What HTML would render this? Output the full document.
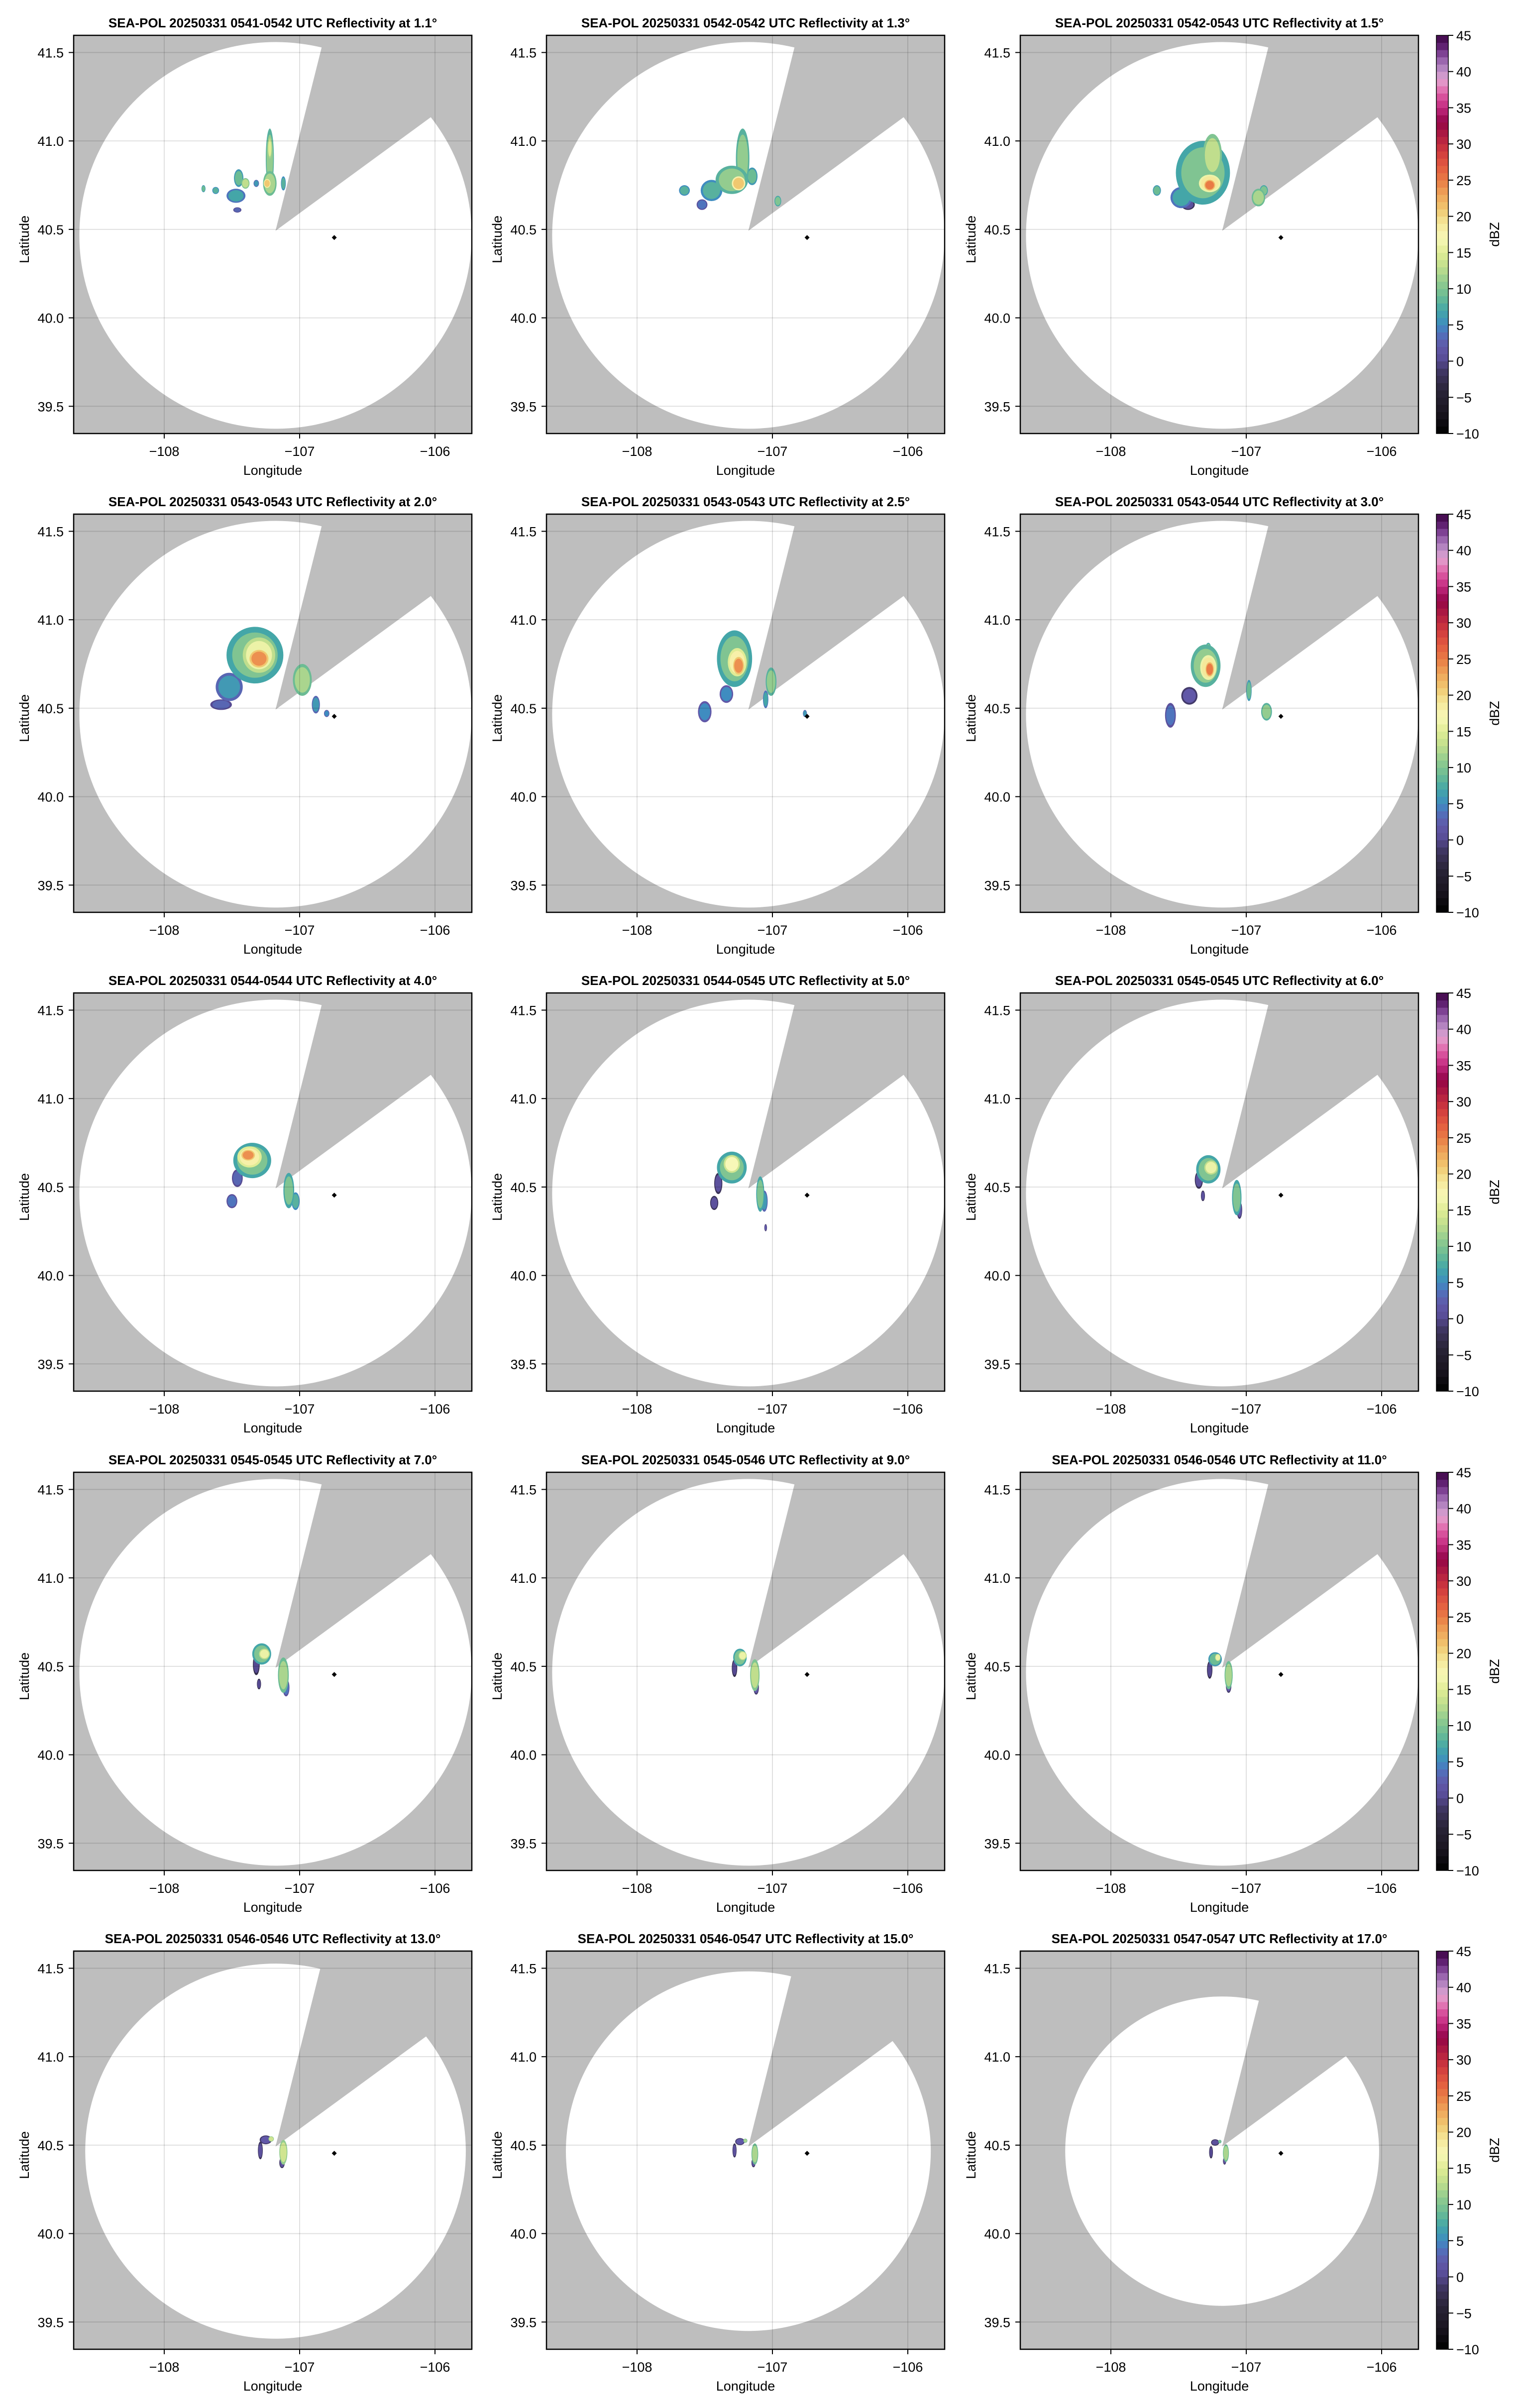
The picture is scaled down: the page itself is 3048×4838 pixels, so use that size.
<!DOCTYPE html>
<html><head><meta charset="utf-8">
<style>
html,body{margin:0;padding:0;background:#fff;}
svg{display:block;font-family:"Liberation Sans",Arial,sans-serif;}
</style></head>
<body>
<svg id="fig" width="3048" height="4838" viewBox="0 0 3048 4838" xmlns="http://www.w3.org/2000/svg"></svg>
<script>
// ---- data ----
const titles = [
 "SEA-POL 20250331 0541-0542 UTC Reflectivity at 1.1°",
 "SEA-POL 20250331 0542-0542 UTC Reflectivity at 1.3°",
 "SEA-POL 20250331 0542-0543 UTC Reflectivity at 1.5°",
 "SEA-POL 20250331 0543-0543 UTC Reflectivity at 2.0°",
 "SEA-POL 20250331 0543-0543 UTC Reflectivity at 2.5°",
 "SEA-POL 20250331 0543-0544 UTC Reflectivity at 3.0°",
 "SEA-POL 20250331 0544-0544 UTC Reflectivity at 4.0°",
 "SEA-POL 20250331 0544-0545 UTC Reflectivity at 5.0°",
 "SEA-POL 20250331 0545-0545 UTC Reflectivity at 6.0°",
 "SEA-POL 20250331 0545-0545 UTC Reflectivity at 7.0°",
 "SEA-POL 20250331 0545-0546 UTC Reflectivity at 9.0°",
 "SEA-POL 20250331 0546-0546 UTC Reflectivity at 11.0°",
 "SEA-POL 20250331 0546-0546 UTC Reflectivity at 13.0°",
 "SEA-POL 20250331 0546-0547 UTC Reflectivity at 15.0°",
 "SEA-POL 20250331 0547-0547 UTC Reflectivity at 17.0°"
];
const rangeFactor = [1,1,1,1,1,1,1,1,1,1,1,1,0.97,0.93,0.80];
const xTicks = [-108,-107,-106];
const xTickLabels = ["−108","−107","−106"];
const yTicks = [41.5,41.0,40.5,40.0,39.5];
const yTickLabels = ["41.5","41.0","40.5","40.0","39.5"];
const cbTicks = [45,40,35,30,25,20,15,10,5,0,-5,-10];
const cbTickLabels = ["45","40","35","30","25","20","15","10","5","0","−5","−10"];
const radarApex = [-107.178, 40.492];
const rangeCenter = [-107.178, 40.466];
const rangeHalf = [1.449, 1.093];
const wedgeP1 = [-106.840, 41.520];
const wedgeP2 = [-106.057, 41.119];
const siteDot = [-106.744, 40.454];
// echoes per panel: [lon, lat, halfLon, halfLat, dBZ]
const echoes = [
 [[-107.22,40.90,0.03,0.17,11],[-107.22,40.96,0.015,0.06,15],[-107.22,40.76,0.05,0.07,12],[-107.24,40.76,0.025,0.025,21],[-107.45,40.79,0.035,0.05,9],[-107.47,40.69,0.07,0.04,7],[-107.40,40.76,0.03,0.03,13],[-107.62,40.72,0.025,0.02,8],[-107.71,40.73,0.015,0.02,9],[-107.12,40.76,0.018,0.04,8],[-107.46,40.61,0.03,0.015,3],[-107.32,40.76,0.02,0.02,6]],
 [[-107.22,40.90,0.05,0.17,11],[-107.30,40.78,0.12,0.08,11],[-107.25,40.76,0.05,0.04,21],[-107.45,40.72,0.08,0.06,8],[-107.65,40.72,0.04,0.03,8],[-107.52,40.64,0.04,0.03,4],[-106.96,40.66,0.025,0.03,10],[-107.15,40.80,0.04,0.05,9]],
 [[-107.32,40.82,0.2,0.18,10],[-107.25,40.92,0.07,0.12,13],[-107.27,40.76,0.08,0.05,19],[-107.27,40.75,0.04,0.03,25],[-107.48,40.68,0.08,0.06,7],[-107.43,40.64,0.05,0.03,1],[-107.66,40.72,0.03,0.03,9],[-106.91,40.68,0.05,0.05,12],[-106.87,40.72,0.03,0.03,10]],
 [[-107.33,40.80,0.21,0.16,10],[-107.30,40.80,0.12,0.1,16],[-107.30,40.78,0.07,0.05,24],[-107.52,40.62,0.1,0.08,6],[-107.58,40.52,0.08,0.03,3],[-106.98,40.66,0.07,0.09,12],[-106.88,40.52,0.03,0.05,6],[-106.80,40.47,0.02,0.02,5]],
 [[-107.28,40.78,0.13,0.16,10],[-107.26,40.76,0.07,0.08,18],[-107.25,40.74,0.04,0.05,24],[-107.34,40.58,0.05,0.05,5],[-107.50,40.48,0.05,0.06,5],[-107.01,40.65,0.04,0.08,11],[-107.05,40.55,0.02,0.05,7],[-106.76,40.47,0.015,0.02,6]],
 [[-107.30,40.74,0.11,0.12,11],[-107.28,40.73,0.06,0.07,19],[-107.27,40.72,0.03,0.04,25],[-107.42,40.57,0.06,0.05,2],[-107.56,40.46,0.04,0.07,4],[-107.28,40.84,0.02,0.03,10],[-106.98,40.60,0.02,0.06,9],[-106.85,40.48,0.04,0.05,11]],
 [[-107.35,40.65,0.14,0.1,10],[-107.37,40.67,0.09,0.06,18],[-107.38,40.68,0.05,0.03,24],[-107.46,40.55,0.04,0.05,3],[-107.50,40.42,0.04,0.04,4],[-107.08,40.48,0.04,0.1,10],[-107.03,40.42,0.03,0.05,8]],
 [[-107.30,40.61,0.11,0.09,10],[-107.30,40.63,0.06,0.05,17],[-107.40,40.52,0.03,0.06,1],[-107.43,40.41,0.03,0.04,1],[-107.09,40.46,0.03,0.1,10],[-107.06,40.42,0.025,0.06,6],[-107.05,40.27,0.01,0.02,2]],
 [[-107.28,40.60,0.09,0.08,10],[-107.26,40.61,0.05,0.04,16],[-107.35,40.54,0.03,0.05,1],[-107.32,40.45,0.015,0.03,1],[-107.07,40.44,0.035,0.1,10],[-107.05,40.37,0.02,0.05,2]],
 [[-107.28,40.57,0.07,0.06,10],[-107.26,40.57,0.04,0.03,16],[-107.32,40.51,0.025,0.06,0],[-107.30,40.40,0.015,0.03,0],[-107.12,40.45,0.04,0.1,12],[-107.10,40.38,0.025,0.05,4]],
 [[-107.24,40.55,0.05,0.05,10],[-107.22,40.56,0.03,0.025,16],[-107.28,40.49,0.02,0.05,0],[-107.13,40.45,0.035,0.09,13],[-107.12,40.38,0.02,0.04,2]],
 [[-107.23,40.54,0.05,0.04,9],[-107.21,40.55,0.02,0.02,16],[-107.27,40.48,0.02,0.05,0],[-107.13,40.45,0.03,0.08,12],[-107.13,40.39,0.02,0.04,2]],
 [[-107.25,40.53,0.045,0.025,2],[-107.21,40.535,0.02,0.015,14],[-107.29,40.47,0.018,0.05,1],[-107.12,40.46,0.03,0.07,14],[-107.13,40.40,0.02,0.03,1]],
 [[-107.24,40.52,0.035,0.02,2],[-107.20,40.525,0.015,0.012,12],[-107.28,40.47,0.015,0.04,1],[-107.13,40.45,0.025,0.06,12],[-107.14,40.40,0.015,0.025,1]],
 [[-107.23,40.515,0.03,0.018,1],[-107.195,40.52,0.012,0.01,10],[-107.26,40.46,0.014,0.035,0],[-107.15,40.455,0.022,0.05,12],[-107.16,40.41,0.012,0.02,1]]
];
const cmapStops = [[-10,"#000000"],[-7,"#1a1620"],[-4,"#2a2438"],[-1,"#433a6a"],[0,"#564a92"],[2,"#6158a8"],[4,"#4f74bd"],[5,"#3f8cc0"],[7,"#44a6a8"],[9,"#6cbc94"],[11,"#93cc8f"],[13,"#c0de8d"],[15,"#e0ec95"],[17,"#f8f8b8"],[19,"#f5e89a"],[21,"#f0c870"],[23,"#eea55a"],[25,"#e97b45"],[27,"#e25a40"],[29,"#cf3a3e"],[31,"#b21e42"],[33,"#930546"],[34,"#a61563"],[35,"#c42a7f"],[37,"#dd5ea6"],[38,"#e488bd"],[39,"#dfa2d0"],[40,"#c090c7"],[41,"#a877b8"],[42,"#8e55a3"],[43,"#6e2e83"],[44,"#541660"],[45,"#3d0648"]];

// ---- helpers ----
const NS="http://www.w3.org/2000/svg";
const fig=document.getElementById('fig');
function mk(tag,attrs,parent){const e=document.createElementNS(NS,tag);for(const k in attrs)e.setAttribute(k,attrs[k]);(parent||fig).appendChild(e);return e;}
function hex2rgb(h){return [parseInt(h.substr(1,2),16),parseInt(h.substr(3,2),16),parseInt(h.substr(5,2),16)];}
function cmap(v){
  if(v<=cmapStops[0][0])return cmapStops[0][1];
  for(let i=1;i<cmapStops.length;i++){
    if(v<=cmapStops[i][0]){const a=cmapStops[i-1],b=cmapStops[i];const t=(v-a[0])/(b[0]-a[0]);
      const ca=hex2rgb(a[1]),cb=hex2rgb(b[1]);
      return "rgb("+ca.map((c,j)=>Math.round(c+(cb[j]-c)*t)).join(",")+")";}
  }
  return cmapStops[cmapStops.length-1][1];
}
const XMIN=-108.669, XMAX=-105.728, YMIN=39.346, YMAX=41.597;
const colX=[148,1098,2050], colW=[800,800,800];
const rowTop=[71,1033,1995,2958,3920], H=800;

for(let p=0;p<15;p++){
  const r=Math.floor(p/3), c=p%3;
  const X0=colX[c], W=colW[c], Y0=rowTop[r];
  const sx=v=>X0+(v-XMIN)/(XMAX-XMIN)*W;
  const sy=v=>Y0+(YMAX-v)/(YMAX-YMIN)*H;
  const g=mk('g',{});
  
  
  const clipId='clip'+p;
  const cp=mk('clipPath',{id:clipId},g);mk('rect',{x:X0,y:Y0,width:W,height:H},cp);
  const bg=mk('rect',{x:X0,y:Y0,width:W,height:H,fill:'#bebebe'},g);
  
  
  const f=rangeFactor[p];
  const rx=rangeHalf[0]*f/(XMAX-XMIN)*W, ry=rangeHalf[1]*f/(YMAX-YMIN)*H;
  const cx=sx(rangeCenter[0]), cy=sy(rangeCenter[1]);
  const ax=sx(radarApex[0]), ay=sy(radarApex[1]);
  function onEll(pt){
    let px=ax+(sx(pt[0])-ax)*f, py=ay+(sy(pt[1])-ay)*f;
    const dx=(px-cx)/rx, dy=(py-cy)/ry, d=Math.sqrt(dx*dx+dy*dy);
    return [cx+(px-cx)/d, cy+(py-cy)/d];
  }
  const q1=onEll(wedgeP1), q2=onEll(wedgeP2);
  const cov=mk('path',{d:`M${ax},${ay} L${q1[0]},${q1[1]} A${rx},${ry} 0 1 0 ${q2[0]},${q2[1]} Z`,fill:'#ffffff','clip-path':`url(#${clipId})`},g);
  
  
  const eg=mk('g',{'clip-path':`url(#${clipId})`},g);
  
  
  const list=echoes[p].slice().sort((a,b)=>a[4]-b[4]);
  list.forEach(e=>{
    const bx=sx(e[0]),by=sy(e[1]),hx=e[2]/(XMAX-XMIN)*W,hy=e[3]/(YMAX-YMIN)*H;
    const o=mk('ellipse',{cx:bx,cy:by,rx:hx,ry:hy,fill:cmap(e[4]-3)},eg);
    
    
    const m=mk('ellipse',{cx:bx,cy:by,rx:hx*0.8,ry:hy*0.8,fill:cmap(e[4])},eg);
    
    
  });
  xTicks.forEach(t=>{const l=mk('line',{x1:sx(t),x2:sx(t),y1:Y0,y2:Y0+H,stroke:'rgba(0,0,0,0.12)','stroke-width':2},g);
    });
  yTicks.forEach(t=>{const l=mk('line',{x1:X0,x2:X0+W,y1:sy(t),y2:sy(t),stroke:'rgba(0,0,0,0.12)','stroke-width':2},g);
    });
  const dx=sx(siteDot[0]),dy=sy(siteDot[1]);
  const dot=mk('path',{d:`M${dx},${dy-5} L${dx+5},${dy} L${dx},${dy+5} L${dx-5},${dy} Z`,fill:'#000'},g);
  
  
  const fr=mk('rect',{x:X0,y:Y0,width:W,height:H,fill:'none',stroke:'#000','stroke-width':2.5},g);
  
  
  xTicks.forEach((t,i)=>{
    mk('line',{x1:sx(t),x2:sx(t),y1:Y0+H,y2:Y0+H+10,stroke:'#000','stroke-width':2},g);
    const tx=mk('text',{x:sx(t),y:Y0+H+45,'font-size':27,'text-anchor':'middle'},g);
    
    tx.textContent=xTickLabels[i];
  });
  yTicks.forEach((t,i)=>{
    mk('line',{x1:X0-10,x2:X0,y1:sy(t),y2:sy(t),stroke:'#000','stroke-width':2},g);
    const ty=mk('text',{x:X0-20,y:sy(t)+10,'font-size':27,'text-anchor':'end'},g);
    
    ty.textContent=yTickLabels[i];
  });
  const xl=mk('text',{x:X0+W/2,y:Y0+H+83,'font-size':27,'text-anchor':'middle'},g);
  
  xl.textContent='Longitude';
  const yl=mk('text',{x:X0-90,y:Y0+H/2+10,'font-size':27,'text-anchor':'middle',transform:`rotate(-90 ${X0-90} ${Y0+H/2+10})`},g);
  
  yl.textContent='Latitude';
  const tt=mk('text',{x:X0+W/2,y:Y0-16,'font-size':26,'font-weight':'bold','text-anchor':'middle'},g);
  
  tt.textContent=titles[p];

  if(c===2){
    const cg=mk('g',{});
    
    
    const CX=2886, CW=24;
    const cby=v=>Y0+(45-v)/55*H;
    for(let v=-10;v<45;v++){
      mk('rect',{x:CX,y:cby(v+1),width:CW,height:cby(v)-cby(v+1)+0.6,fill:cmap(v+0.5)},cg);
    }
    mk('rect',{x:CX,y:Y0,width:CW,height:H,fill:'none',stroke:'#000','stroke-width':1.5},cg);
    cbTicks.forEach((t,i)=>{
      mk('line',{x1:CX+CW,x2:CX+CW+10,y1:cby(t),y2:cby(t),stroke:'#000','stroke-width':2},cg);
      const l=mk('text',{x:CX+CW+16,y:cby(t)+10,'font-size':27},cg);
      
      l.textContent=cbTickLabels[i];
    });
    const ux=3012, uy=Y0+H/2;
    const u=mk('text',{x:ux,y:uy,'font-size':27,'text-anchor':'middle',transform:`rotate(-90 ${ux} ${uy})`},cg);
    
    u.textContent='dBZ';
  }
}
</script>
</body></html>
